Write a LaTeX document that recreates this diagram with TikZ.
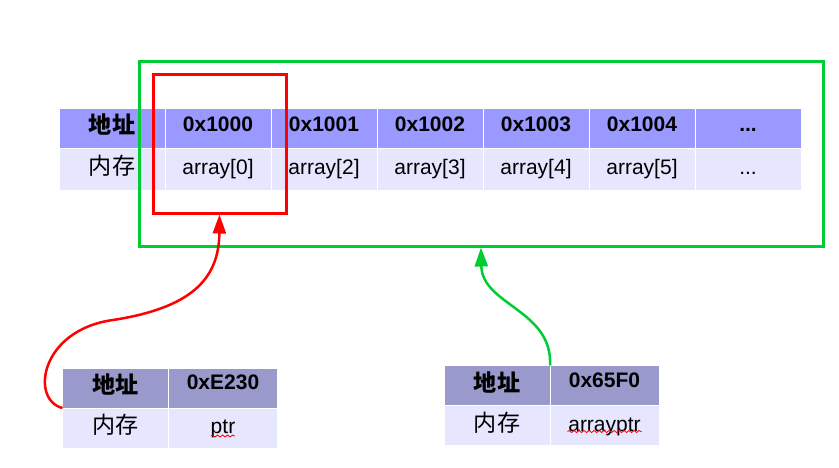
\documentclass[tikz,border=0pt]{standalone}
\usepackage{fontspec}
\setmainfont{Liberation Sans}
\newfontfamily\cjk{Noto Sans CJK SC}[Scale=1.1]
\usepackage{xcolor}
\usetikzlibrary{arrows.meta, positioning, decorations.pathmorphing}
\definecolor{hdrblue}{HTML}{9999FF}
\definecolor{hdrgray}{HTML}{9999CC}
\definecolor{rowblue}{HTML}{E6E6FF}
\definecolor{boxgreen}{HTML}{00CC33}
\newcommand\hexlabel[2][2pt]{\raisebox{#1}{\bfseries #2}}

\begin{document}
\begin{tikzpicture}[
    x=1pt, y=-1pt,
    cell/.style={draw=white, line width=1pt, rectangle, inner sep=0pt, outer sep=0pt,
      minimum width=106pt, text height=15pt, text depth=4pt,
      font=\fontsize{21}{25}\selectfont},
    addr/.style={cell, fill=hdrblue, minimum height=40pt},
    mem/.style={cell, fill=rowblue, minimum height=42pt},
    ptraddr/.style={cell, fill=hdrgray, minimum height=40pt},
    ptrmem/.style={cell, fill=rowblue, minimum height=40pt},
    frame/.style={draw, line width=3pt, rectangle, inner sep=0pt},
    arrow/.style={line width=2.5pt, -{Triangle[length=19pt,width=13pt]}},
    squiggle/.style={red, line width=0.8pt, decorate,
      decoration={snake, amplitude=1pt, segment length=5pt}}
]
\useasboundingbox (0,0) rectangle (839,467);

\node[addr] (key) at (112,128) {\cjk\bfseries 地址};
\node[addr, right=0pt of key] (a0) {\hexlabel{0x1000}};
\node[addr, right=0pt of a0] (a1) {\hexlabel{0x1001}};
\node[addr, right=0pt of a1] (a2) {\hexlabel{0x1002}};
\node[addr, right=0pt of a2] (a3) {\hexlabel{0x1003}};
\node[addr, right=0pt of a3] (a4) {\hexlabel{0x1004}};
\node[addr, right=0pt of a4] (a5) {\hexlabel{...}};
\node[mem, below=0pt of key] (keym) {\cjk 内存};
\node[mem, below=0pt of a0] (m0) {array[0]};
\node[mem, below=0pt of a1] (m1) {array[2]};
\node[mem, below=0pt of a2] (m2) {array[3]};
\node[mem, below=0pt of a3] (m3) {array[4]};
\node[mem, below=0pt of a4] (m4) {array[5]};
\node[mem, below=0pt of a5] (m5) {...};

\node[ptraddr] (ptrkey) at (115.5,388) {\cjk\bfseries 地址};
\node[ptraddr, minimum width=109pt, right=0pt of ptrkey] (ptrval) {\hexlabel[4pt]{0xE230}};
\node[ptrmem, below=0pt of ptrkey] (ptrkeym) {\cjk 内存};
\node[ptrmem, minimum width=109pt, below=0pt of ptrval] (ptrvalm) {ptr};

\node[ptraddr] (aptrkey) at (497,385.5) {\cjk\bfseries 地址};
\node[ptraddr, minimum width=109pt, right=0pt of aptrkey] (aptrval) {\hexlabel[4pt]{0x65F0}};
\node[ptrmem, below=0pt of aptrkey] (aptrkeym) {\cjk 内存};
\node[ptrmem, minimum width=109pt, below=0pt of aptrval] (aptrvalm) {arrayptr};

\node[frame, draw=boxgreen, minimum width=684pt, minimum height=185pt] (greenbox) at (481,153.5) {};
\node[frame, draw=red, minimum width=133pt, minimum height=139pt] (redbox) at (219.5,143.5) {};

\draw[arrow, red] (ptrkey.south west) .. controls (30,400) and (40,330) .. (113,320)
  .. controls (190,308) and (219,280) .. (redbox.south);
\draw[arrow, boxgreen] (aptrkey.north east) .. controls (553,310) and (482,305) .. (greenbox.south);

\draw[squiggle] ([shift={(-12,8)}]ptrvalm.center) -- ([shift={(12,8)}]ptrvalm.center);
\draw[squiggle] ([shift={(-37,6)}]aptrvalm.center) -- ([shift={(37,6)}]aptrvalm.center);
\end{tikzpicture}
\end{document}
